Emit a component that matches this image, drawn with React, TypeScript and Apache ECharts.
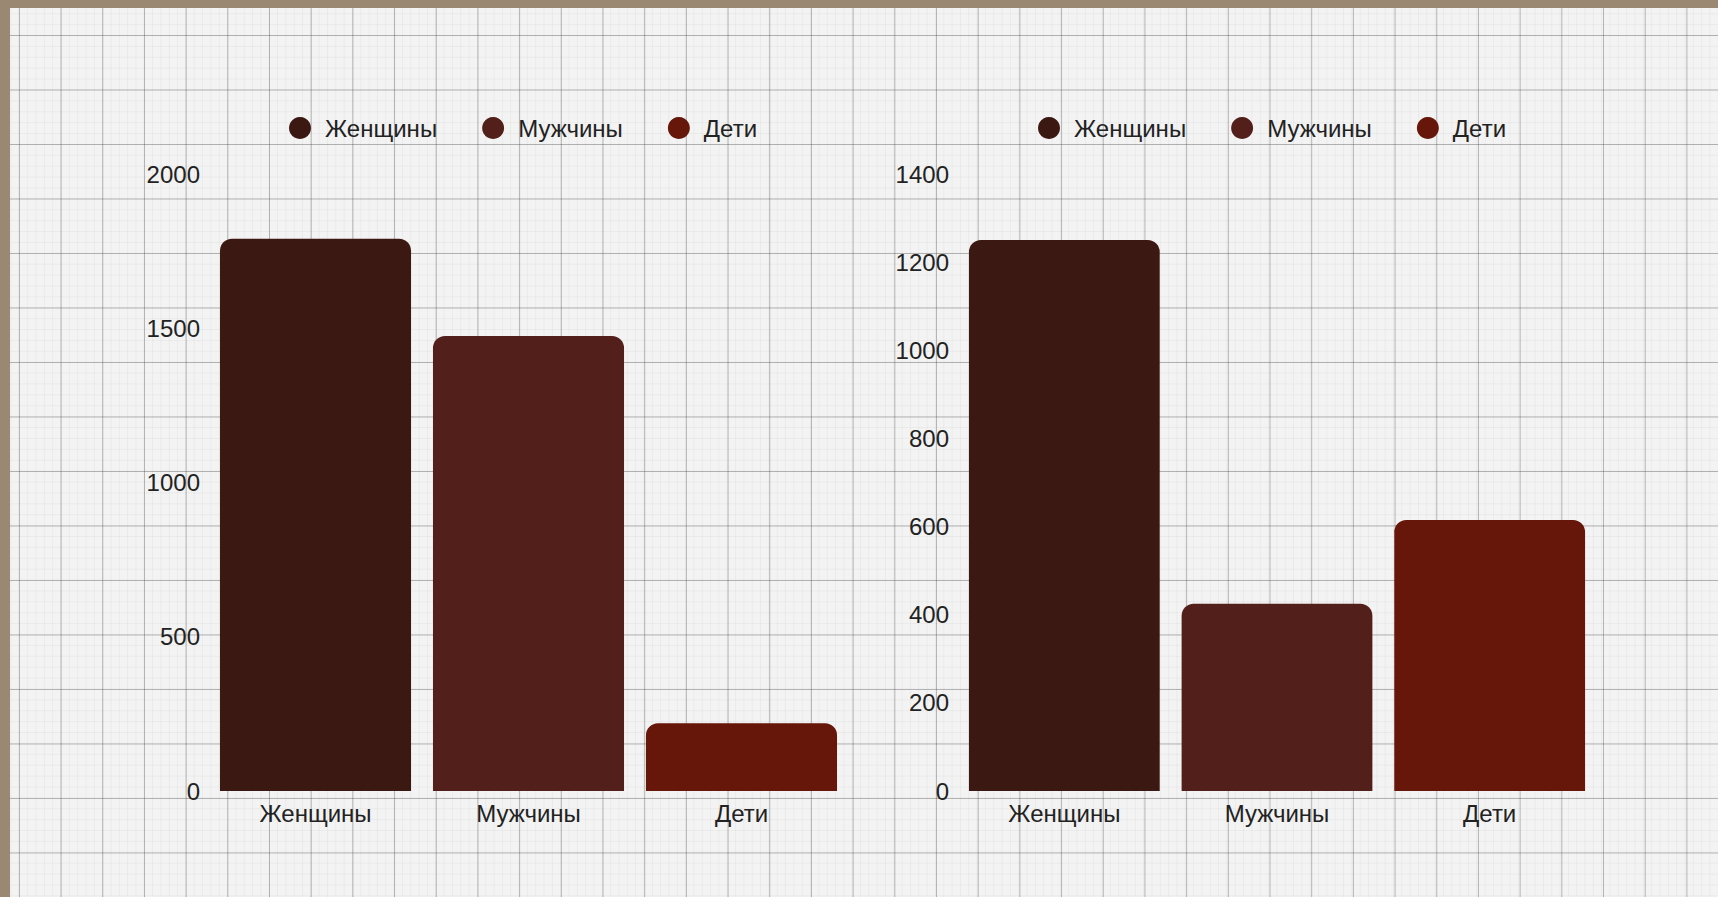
import React, { useEffect, useRef } from "react";
import * as echarts from "echarts";

const categories = ["Женщины", "Мужчины", "Дети"];
const leftValues = [1790, 1475, 220];
const rightValues = [1250, 425, 615];
const leftTicks = { min: 0, max: 2000, interval: 500 };
const rightTicks = { min: 0, max: 1400, interval: 200 };
const colors = ["#3c1812", "#521f1a", "#661709"];

const FONT = "Liberation Sans, Arial, sans-serif";
const TEXT = "#222222";

export default function App() {
  const ref = useRef<HTMLDivElement>(null);

  useEffect(() => {
    document.body.style.margin = "0";
    if (!ref.current) return;
    const chart = echarts.init(ref.current, null, { renderer: "svg" });

    const makeSeries = (values: number[], gi: number) =>
      categories.map((name, i) => ({
        name,
        type: "bar",
        xAxisIndex: gi,
        yAxisIndex: gi,
        stack: "g" + gi,
        barWidth: "89.7%",
        itemStyle: { color: colors[i], borderRadius: [12, 12, 0, 0] },
        data: categories.map((_, j) => (j === i ? values[i] : "-")),
      }));

    const legendBase = {
      data: categories,
      icon: "circle",
      itemWidth: 40,
      itemHeight: 22,
      itemGap: 45,
      top: 111,
      textStyle: { fontSize: 24, color: TEXT, fontFamily: FONT },
      selectedMode: false,
    };

    const xAxisBase = {
      type: "category",
      data: categories,
      axisLine: { show: false },
      axisTick: { show: false },
      axisLabel: { fontSize: 24, color: TEXT, fontFamily: FONT, margin: 10 },
      splitLine: { show: false },
    };
    const yAxisBase = {
      type: "value",
      axisLine: { show: false },
      axisTick: { show: false },
      splitLine: { show: false },
      axisLabel: {
        fontSize: 24,
        color: TEXT,
        fontFamily: FONT,
        margin: 9,
        formatter: (v: number) => String(v),
      },
    };

    chart.setOption({
      animation: false,
      backgroundColor: "transparent",
      legend: [
        { ...legendBase, left: 284 },
        { ...legendBase, left: 1033 },
      ],
      grid: [
        { left: 209, right: 870, top: 174, bottom: 106 },
        { left: 958, right: 122, top: 174, bottom: 106 },
      ],
      xAxis: [
        { ...xAxisBase, gridIndex: 0 },
        { ...xAxisBase, gridIndex: 1 },
      ],
      yAxis: [
        { ...yAxisBase, gridIndex: 0, ...leftTicks },
        { ...yAxisBase, gridIndex: 1, ...rightTicks },
      ],
      series: [...makeSeries(leftValues, 0), ...makeSeries(rightValues, 1)],
    });

    return () => chart.dispose();
  }, []);

  const paper: React.CSSProperties = {
    position: "absolute",
    left: 0,
    top: 0,
    width: 1718,
    height: 897,
    overflow: "hidden",
    backgroundColor: "#f3f3f3",
    backgroundImage: [
      "linear-gradient(to right, rgba(60,60,60,0.34) 1px, transparent 1px)",
      "linear-gradient(to bottom, rgba(60,60,60,0.34) 1px, transparent 1px)",
      "linear-gradient(to right, rgba(130,130,130,0.08) 1px, transparent 1px)",
      "linear-gradient(to bottom, rgba(130,130,130,0.08) 1px, transparent 1px)",
    ].join(","),
    backgroundSize: "41.7px 100%, 100% 54.5px, 8.34px 100%, 100% 10.9px",
    backgroundPosition: "18.9px 0, 0 35px, 18.9px 0, 0 35px",
  };

  return (
    <div style={paper}>
      <div style={{ position: "absolute", left: 0, top: 0, width: 1718, height: 8, background: "#9a8873" }} />
      <div style={{ position: "absolute", left: 0, top: 0, width: 10, height: 897, background: "#9a8873" }} />
      <div ref={ref} style={{ position: "absolute", left: 0, top: 0, width: 1718, height: 897 }} />
    </div>
  );
}
